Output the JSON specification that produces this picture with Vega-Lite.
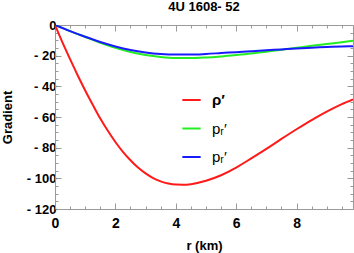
{
  "$schema": "https://vega.github.io/schema/vega-lite/v6.json",
  "width": 298,
  "height": 184,
  "autosize": {"type": "none"},
  "padding": {"left": 55, "top": 25, "right": 1, "bottom": 44},
  "background": "white",
  "config": {
    "view": {"stroke": "#9a9a9a", "strokeWidth": 1},
    "font": "Liberation Sans",
    "axis": {"domainColor": "#9a9a9a", "tickColor": "#9a9a9a", "grid": false, "labelColor": "black", "titleColor": "black"}
  },
  "title": {"text": "4U 1608- 52", "fontSize": 13, "fontWeight": "bold", "anchor": "middle", "offset": 5, "font": "Liberation Sans"},
  "data": {"values": [
    {"r": 0, "v": 0, "s": "rho"},
    {"r": 0.25, "v": -11.5, "s": "rho"},
    {"r": 0.5, "v": -22.3, "s": "rho"},
    {"r": 0.75, "v": -32.8, "s": "rho"},
    {"r": 1, "v": -42.7, "s": "rho"},
    {"r": 1.25, "v": -52, "s": "rho"},
    {"r": 1.5, "v": -61, "s": "rho"},
    {"r": 1.75, "v": -69, "s": "rho"},
    {"r": 2, "v": -76.3, "s": "rho"},
    {"r": 2.25, "v": -82.7, "s": "rho"},
    {"r": 2.5, "v": -88.2, "s": "rho"},
    {"r": 2.75, "v": -93, "s": "rho"},
    {"r": 3, "v": -96.8, "s": "rho"},
    {"r": 3.25, "v": -99.8, "s": "rho"},
    {"r": 3.5, "v": -102, "s": "rho"},
    {"r": 3.75, "v": -103.4, "s": "rho"},
    {"r": 4, "v": -104.1, "s": "rho"},
    {"r": 4.25, "v": -104.2, "s": "rho"},
    {"r": 4.5, "v": -103.8, "s": "rho"},
    {"r": 5, "v": -101.6, "s": "rho"},
    {"r": 5.5, "v": -98, "s": "rho"},
    {"r": 6, "v": -93, "s": "rho"},
    {"r": 6.5, "v": -87, "s": "rho"},
    {"r": 7, "v": -80.8, "s": "rho"},
    {"r": 7.5, "v": -74.3, "s": "rho"},
    {"r": 8, "v": -68, "s": "rho"},
    {"r": 8.5, "v": -62, "s": "rho"},
    {"r": 9, "v": -56.5, "s": "rho"},
    {"r": 9.5, "v": -51.6, "s": "rho"},
    {"r": 9.87, "v": -48.5, "s": "rho"},
    {"r": 0, "v": 0, "s": "pr"},
    {"r": 0.5, "v": -4, "s": "pr"},
    {"r": 1, "v": -7.8, "s": "pr"},
    {"r": 1.5, "v": -11.6, "s": "pr"},
    {"r": 2, "v": -14.9, "s": "pr"},
    {"r": 2.5, "v": -17.6, "s": "pr"},
    {"r": 3, "v": -19.5, "s": "pr"},
    {"r": 3.5, "v": -20.8, "s": "pr"},
    {"r": 4, "v": -21.5, "s": "pr"},
    {"r": 4.5, "v": -21.6, "s": "pr"},
    {"r": 5, "v": -21.2, "s": "pr"},
    {"r": 5.5, "v": -20.5, "s": "pr"},
    {"r": 6, "v": -19.6, "s": "pr"},
    {"r": 6.5, "v": -18.6, "s": "pr"},
    {"r": 7, "v": -17.4, "s": "pr"},
    {"r": 7.5, "v": -16.2, "s": "pr"},
    {"r": 8, "v": -14.9, "s": "pr"},
    {"r": 8.5, "v": -13.6, "s": "pr"},
    {"r": 9, "v": -12.4, "s": "pr"},
    {"r": 9.5, "v": -11.2, "s": "pr"},
    {"r": 9.87, "v": -10.3, "s": "pr"},
    {"r": 0, "v": 0, "s": "pt"},
    {"r": 0.5, "v": -4, "s": "pt"},
    {"r": 1, "v": -7.7, "s": "pt"},
    {"r": 1.5, "v": -11.1, "s": "pt"},
    {"r": 2, "v": -14, "s": "pt"},
    {"r": 2.5, "v": -16.3, "s": "pt"},
    {"r": 3, "v": -17.9, "s": "pt"},
    {"r": 3.5, "v": -18.9, "s": "pt"},
    {"r": 4, "v": -19.3, "s": "pt"},
    {"r": 4.5, "v": -19.3, "s": "pt"},
    {"r": 5, "v": -18.9, "s": "pt"},
    {"r": 5.5, "v": -18.3, "s": "pt"},
    {"r": 6, "v": -17.7, "s": "pt"},
    {"r": 6.5, "v": -17.1, "s": "pt"},
    {"r": 7, "v": -16.5, "s": "pt"},
    {"r": 7.5, "v": -15.9, "s": "pt"},
    {"r": 8, "v": -15.3, "s": "pt"},
    {"r": 8.5, "v": -14.8, "s": "pt"},
    {"r": 9, "v": -14.4, "s": "pt"},
    {"r": 9.5, "v": -14, "s": "pt"},
    {"r": 9.87, "v": -13.8, "s": "pt"}
  ]},
  "resolve": {"axis": {"x": "independent", "y": "independent"}},
  "layer": [
    {
      "mark": {"type": "line", "strokeWidth": 2, "interpolate": "monotone", "clip": true},
      "encoding": {
        "x": {"field": "r", "type": "quantitative", "scale": {"domain": [0, 9.87], "nice": false},
          "axis": {"orient": "bottom", "values": [0, 2, 4, 6, 8], "tickSize": -6, "labelPadding": 13.5, "labelFontSize": 14, "labelFontWeight": "bold", "title": "r (km)", "titleFontSize": 13, "titleFontWeight": "bold", "titlePadding": 8.5, "labelFlush": false}},
        "y": {"field": "v", "type": "quantitative", "scale": {"domain": [-120, 0], "nice": false},
          "axis": {"orient": "left", "values": [-120, -100, -80, -60, -40, -20, 0], "tickSize": -6, "labelPadding": 5, "labelFontSize": 13, "labelFontWeight": "bold", "labelExpr": "datum.value == 0 ? '0' : '- ' + abs(datum.value)", "title": "Gradient", "titleFontSize": 13, "titleFontWeight": "bold", "titlePadding": 12, "labelFlush": false}},
        "color": {"field": "s", "type": "nominal",
          "scale": {"domain": ["rho", "pr", "pt"], "range": ["#ff1a1a", "#22ee22", "#1a1aff"]},
          "legend": {"orient": "none", "legendX": 126, "legendY": 64.5, "title": null, "symbolType": "stroke", "symbolSize": 335, "symbolStrokeWidth": 2, "labelFontSize": 15, "labelOffset": 10, "rowPadding": 9.5, "padding": 0, "labelFont": "Liberation Sans",
            "labelExpr": "datum.value == 'rho' ? 'ρ′' : 'pᵣ′'",
            "encode": {"labels": {"update": {"fontWeight": {"signal": "datum.value == 'rho' ? 'bold' : 'normal'"}}}}}}
      }
    },
    {
      "mark": {"type": "line", "opacity": 0},
      "encoding": {
        "x": {"field": "r", "type": "quantitative", "axis": {"orient": "top", "values": [0, 2, 4, 6, 8], "tickSize": -6, "labels": false, "title": null, "domain": false}},
        "y": {"field": "v", "type": "quantitative", "axis": {"orient": "right", "values": [-120, -100, -80, -60, -40, -20, 0], "tickSize": -6, "labels": false, "title": null, "domain": false}}
      }
    },
    {
      "mark": {"type": "line", "opacity": 0},
      "encoding": {
        "x": {"field": "r", "type": "quantitative", "axis": {"orient": "bottom", "values": [0.5, 1, 1.5, 2.5, 3, 3.5, 4.5, 5, 5.5, 6.5, 7, 7.5, 8.5, 9, 9.5], "tickSize": -3, "labels": false, "title": null, "domain": false}},
        "y": {"field": "v", "type": "quantitative", "axis": {"orient": "left", "values": [-115, -110, -105, -95, -90, -85, -75, -70, -65, -55, -50, -45, -35, -30, -25, -15, -10, -5], "tickSize": -3, "labels": false, "title": null, "domain": false}}
      }
    },
    {
      "mark": {"type": "line", "opacity": 0},
      "encoding": {
        "x": {"field": "r", "type": "quantitative", "axis": {"orient": "top", "values": [0.5, 1, 1.5, 2.5, 3, 3.5, 4.5, 5, 5.5, 6.5, 7, 7.5, 8.5, 9, 9.5], "tickSize": -3, "labels": false, "title": null, "domain": false}},
        "y": {"field": "v", "type": "quantitative", "axis": {"orient": "right", "values": [-115, -110, -105, -95, -90, -85, -75, -70, -65, -55, -50, -45, -35, -30, -25, -15, -10, -5], "tickSize": -3, "labels": false, "title": null, "domain": false}}
      }
    }
  ]
}
